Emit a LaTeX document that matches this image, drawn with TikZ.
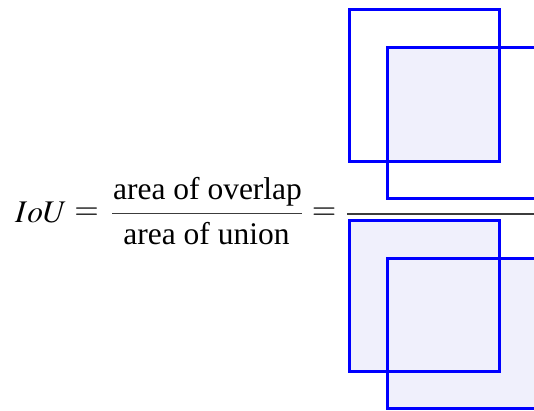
\documentclass[tikz,border=0pt]{standalone}
\usepackage{mathptmx}
\usepackage{fontspec}
\setmainfont{Liberation Serif}
\definecolor{boxblue}{RGB}{0,0,255}
\definecolor{boxfill}{RGB}{240,240,252}
\definecolor{barcol}{RGB}{60,60,60}
\tikzset{
  sq/.style={draw=boxblue, line width=3pt},
  sqfill/.style={fill=boxfill},
  fracbar/.style={draw=barcol, line width=1.4pt},
  txt/.style={inner sep=0pt, font=\fontsize{31.5}{38}\selectfont}
}
\begin{document}
\begin{tikzpicture}[x=1pt,y=-1pt]
\useasboundingbox (0,0) rectangle (534,410);
\clip (0,0) rectangle (534,410);
% formula
\node[txt, anchor=base west] (iou) at (15,222) {$IoU$};
\node[txt, anchor=center] (eq1) at (86.5,214) {$=$};
\node[txt, anchor=base] (num) at (207.5,199.5) {area of overlap};
\node[txt, anchor=base] (den) at (206.5,244) {area of union};
\coordinate (bar1L) at (112,213.5);
\coordinate (bar1R) at (302,213.5);
\draw[fracbar] (bar1L) -- (bar1R);
\node[txt, anchor=center] (eq2) at (324,214) {$=$};
% numerator: overlap
\fill[sqfill] (387,47.5) rectangle (499.5,161);
\draw[sq] (349.5,9.5) rectangle (499.5,161);
\draw[sq] (387,47.5) rectangle (537,198.5);
% fraction bar
\coordinate (barL) at (347,214);
\coordinate (barR) at (540,214);
\draw[fracbar] (barL) -- (barR);
% denominator: union
\fill[sqfill] (349.5,220.5) rectangle (499.5,371.5);
\fill[sqfill] (387,258) rectangle (537,408);
\draw[sq] (349.5,220.5) rectangle (499.5,371.5);
\draw[sq] (387,258) rectangle (537,408);
\end{tikzpicture}
\end{document}
